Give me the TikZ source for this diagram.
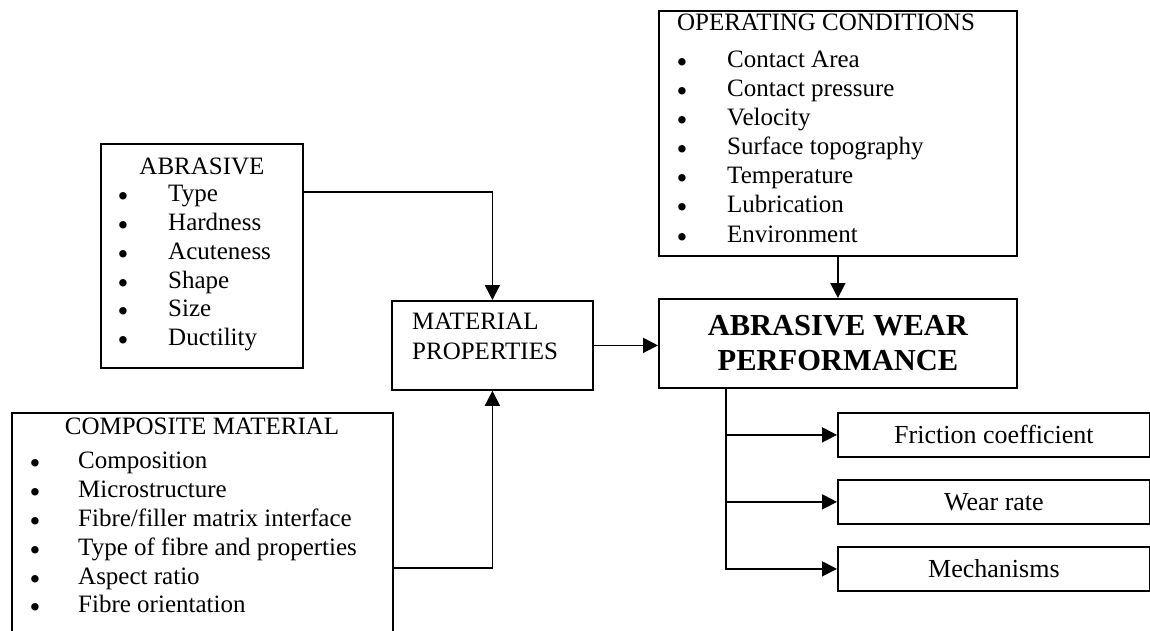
\documentclass[tikz,border=0pt]{standalone}
\usepackage{fontspec}
\setmainfont{Liberation Serif}
\usetikzlibrary{arrows.meta}
\begin{document}
\begin{tikzpicture}[x=1pt,y=-1pt,
  box/.style={draw, line width=1.8pt, inner sep=0pt, anchor=north west},
  conn/.style={line width=1.8pt},
  arr/.style={conn, -{Triangle[length=15pt,width=15pt]}},
  txt/.style={font=\fontsize{25}{29}\selectfont, inner sep=0pt},
  item/.style={txt, anchor=mid west},
  bul/.style={font=\fontsize{31}{31}\selectfont, inner sep=0pt, anchor=center},
  ttl/.style={txt, anchor=mid},
  outbox/.style={box, minimum width=312pt, minimum height=44pt, font=\fontsize{26}{30}\selectfont},
]
\useasboundingbox (0,0) rectangle (1150,631);
\fill[white] (0,0) rectangle (1150,631);

% ABRASIVE
\node[box, minimum width=202pt, minimum height=224pt] (abr) at (100,143) {};
\node[ttl] (abrT) at (202,172) {ABRASIVE};
\foreach \y/\t [count=\i] in {199/Type, 228/Hardness, 257/Acuteness, 286/Shape, 314/Size, 343/Ductility} {
  \node[bul] (abrB\i) at (123,\y+1) {•};
  \node[item] (abrI\i) at (168,\y) {\t};
}

% COMPOSITE MATERIAL
\node[box, minimum width=381pt, minimum height=260pt] (comp) at (11,412) {};
\node[ttl] (compT) at (202,432) {COMPOSITE MATERIAL};
\foreach \y/\t [count=\i] in {466/{Composition}, 495/{Microstructure}, 524/{Fibre/filler matrix interface}, 553/{Type of fibre and properties}, 582/{Aspect ratio}, 610/{Fibre orientation}} {
  \node[bul] (compB\i) at (35,\y+1) {•};
  \node[item] (compI\i) at (78,\y) {\t};
}

% OPERATING CONDITIONS
\node[box, minimum width=358pt, minimum height=245pt] (op) at (658,10) {};
\node[ttl] (opT) at (826,28) {OPERATING CONDITIONS};
\foreach \y/\t [count=\i] in {65/{Contact Area}, 94/{Contact pressure}, 123/{Velocity}, 152/{Surface topography}, 181/{Temperature}, 210/{Lubrication}} {
  \node[bul] (opB\i) at (682,\y+1) {•};
  \node[item] (opI\i) at (727,\y) {\t};
}
\begin{scope}
  \clip (658,10) rectangle (1016,247);
  \node[bul] (opB7) at (682,241) {•};
  \node[item] (opI7) at (727,240) {Environment};
\end{scope}

% MATERIAL PROPERTIES
\node[box, minimum width=201pt, minimum height=89pt] (mat) at (391,300) {};
\node[item] (matT1) at (412,327) {MATERIAL};
\node[item] (matT2) at (412,357) {PROPERTIES};

% ABRASIVE WEAR PERFORMANCE
\node[box, minimum width=358pt, minimum height=89pt, align=center,
      font=\fontsize{30.5}{35}\selectfont\bfseries] (awp) at (658,298) {ABRASIVE WEAR\\PERFORMANCE};

% outputs
\node[outbox] (fc) at (837,412) {Friction coefficient};
\node[outbox] (wr) at (837,479) {Wear rate};
\node[outbox] (mech) at (837,546) {Mechanisms};

% connectors
\draw[arr] ([yshift=-49pt]abr.north east) -| (mat.north);
\draw[arr] ([yshift=-156pt]comp.north east) -| (mat.south);
\draw[arr] (mat.east) -- (mat.east -| awp.west);
\draw[arr] (op.south) -- (awp.north);
\coordinate (trunk) at ([xshift=68pt]awp.south west);
\draw[arr] (trunk) |- (mech.west);
\draw[arr] (trunk |- fc.west) -- (fc.west);
\draw[arr] (trunk |- wr.west) -- (wr.west);
\end{tikzpicture}
\end{document}
